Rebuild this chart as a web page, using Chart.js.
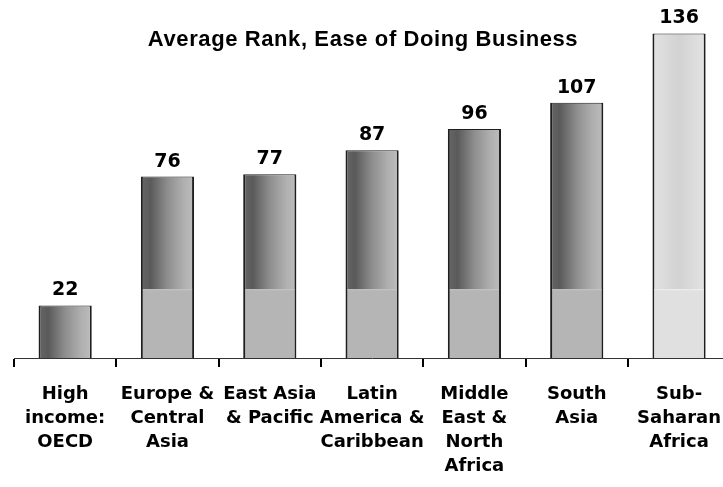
<!DOCTYPE html>
<html>
<head>
<meta charset="utf-8">
<script src="https://cdn.jsdelivr.net/npm/chart.js@4"></script>
<style>
    html, body { margin: 0; padding: 0; background: #fff; overflow: hidden; }
    #wrap { width: 736px; height: 487px; }
</style>
</head>
<body>
<div id="wrap"><canvas id="rankChart"></canvas></div>
<script>
// Regions (multi-line labels as in the original axis)
const regions = [
    ['High', 'income:', 'OECD'],
    ['Europe &', 'Central', 'Asia'],
    ['East Asia', '& Pacific'],
    ['Latin', 'America &', 'Caribbean'],
    ['Middle', 'East &', 'North', 'Africa'],
    ['South', 'Asia'],
    ['Sub-', 'Saharan', 'Africa']
];
const avgRank = [22, 76, 77, 87, 96, 107, 136];
const chartTitle = 'Average Rank, Ease of Doing Business';

document.addEventListener('DOMContentLoaded', function () {
    const ctx = document.getElementById('rankChart').getContext('2d');

    // gradient fill for each bar, built from the x scale position
    function barFill(context) {
        const chart = context.chart;
        if (!chart.chartArea) return '#999';
        const xs = chart.scales.x;
        const cx = xs.getPixelForValue(context.dataIndex);
        const half = xs.width / regions.length * 0.52 / 2;
        const g = chart.ctx.createLinearGradient(cx - half, 0, cx + half, 0);
        if (context.dataIndex === avgRank.length - 1) {
            g.addColorStop(0, '#e2e2e2');
            g.addColorStop(0.5, '#d2d2d2');
            g.addColorStop(1, '#e4e4e4');
        } else {
            g.addColorStop(0, '#666666');
            g.addColorStop(0.18, '#5a5a5a');
            g.addColorStop(0.5, '#8e8e8e');
            g.addColorStop(0.8, '#afafaf');
            g.addColorStop(1, '#bdbdbd');
        }
        return g;
    }

    // flat lower band on the bars + value labels + title
    const decorPlugin = {
        id: 'decor',
        afterDatasetsDraw(chart) {
            const c = chart.ctx;
            const ys = chart.scales.y;
            const meta = chart.getDatasetMeta(0);
            const bandTop = ys.getPixelForValue(28.8);
            c.save();
            meta.data.forEach(function (bar, i) {
                const left = bar.x - bar.width / 2;
                const w = bar.width;
                if (avgRank[i] > 30) {
                    c.fillStyle = i === avgRank.length - 1 ? '#e0e0e0' : '#b5b5b5';
                    c.fillRect(left + 2, bandTop, w - 4, bar.base - bandTop);
                    c.fillStyle = i === avgRank.length - 1 ? '#f0f0f0' : '#c8c8c8';
                    c.fillRect(left + 2, bandTop, w - 4, 1);
                }
                c.fillStyle = '#000';
                c.font = 'bold 19px "DejaVu Sans"';
                c.textAlign = 'center';
                c.textBaseline = 'alphabetic';
                c.fillText(String(avgRank[i]), bar.x, bar.y - 10);
            });
            c.font = 'bold 22px "Liberation Sans"';
            c.letterSpacing = '0.6px';
            c.fillText(chartTitle, 363, 46);
            c.restore();
        }
    };

    new Chart(ctx, {
        type: 'bar',
        data: {
            labels: regions,
            datasets: [{
                label: 'Average rank',
                data: avgRank,
                backgroundColor: barFill,
                borderColor: '#1e1e1e',
                borderWidth: { top: 1, left: 2, right: 2, bottom: 0 },
                borderSkipped: false,
                barPercentage: 0.52,
                categoryPercentage: 1.0
            }]
        },
        options: {
            responsive: true,
            maintainAspectRatio: false,
            animation: false,
            layout: { padding: { left: 14, right: 0, top: 0, bottom: 0 } },
            scales: {
                y: {
                    display: false,
                    min: 0,
                    max: 150
                },
                x: {
                    afterFit: function (scale) { scale.height = 129; },
                    grid: {
                        offset: true,
                        drawOnChartArea: false,
                        drawTicks: true,
                        tickLength: 9,
                        color: '#000',
                        lineWidth: 2
                    },
                    border: { display: true, color: '#333', width: 1 },
                    ticks: {
                        color: '#000',
                        padding: 15,
                        maxRotation: 0,
                        autoSkip: false,
                        font: { family: 'DejaVu Sans', size: 18, weight: 'bold', lineHeight: 1.3333 }
                    }
                }
            },
            plugins: {
                legend: { display: false },
                tooltip: { enabled: false }
            }
        },
        plugins: [decorPlugin]
    });
});
</script>
</body>
</html>
